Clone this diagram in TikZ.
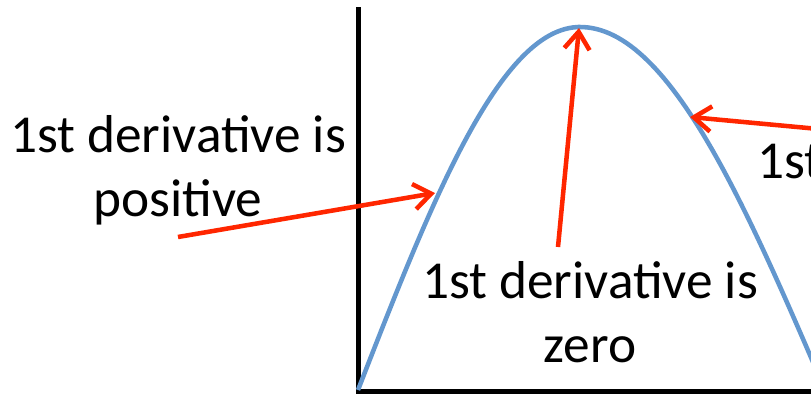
\documentclass[tikz,border=0pt]{standalone}
\usepackage{fontspec}
\setmainfont{Carlito}
\definecolor{curveBlue}{RGB}{99, 151, 206}
\definecolor{arrowRed}{RGB}{255, 38, 0}
\usetikzlibrary{arrows.meta}

\begin{document}
\begin{tikzpicture}[
    x=0.75pt, y=0.75pt,
    label/.style={align=center, inner sep=0pt,
                  font=\fontsize{40}{48}\selectfont},
    pointer/.style={draw=arrowRed, line width=3.4pt,
                    -{Straight Barb[length=13pt, width=19pt, line width=3.4pt]}},
    axis/.style={draw=black, line width=3.75pt},
    curve/.style={draw=curveBlue, line width=3.4pt},
  ]
    \useasboundingbox (0,0) rectangle (811,394);
    \clip (0,0) rectangle (811,394);

    \draw[axis] (358,387) -- (358,3) -- (820,3);
    \draw[curve] plot[domain=358:580, samples=60]
        (\x, {4+363*sin((\x-358)/222*90)})
      -- plot[domain=580:830, samples=60]
        (\x, {4+363*cos((\x-580)/245*90)});

    \node[label] (POS) at (178,224) {1st derivative is\\positive};
    \node[label] (ZERO) at (590,82) {1st derivative is\\zero};
    \node[label, anchor=west] (NEG) at (757,232) {1st};

    \coordinate (posTail) at (178,157);
    \coordinate (posTip) at (435,201);
    \coordinate (zeroTail) at (558,147);
    \coordinate (zeroTip) at (579,366);
    \coordinate (negTail) at (840,263);
    \coordinate (negTip) at (690,277);

    \draw[pointer] (posTail) -- (posTip);
    \draw[pointer] (zeroTail) -- (zeroTip);
    \draw[pointer] (negTail) -- (negTip);
  \end{tikzpicture}
\end{document}
